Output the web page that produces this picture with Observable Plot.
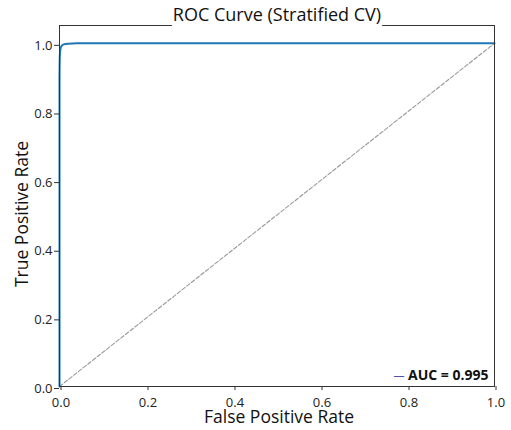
<!DOCTYPE html>
<html>
<head>
<meta charset="utf-8">
<script src="https://cdn.jsdelivr.net/npm/d3@7"></script>
<script src="https://cdn.jsdelivr.net/npm/@observablehq/plot@0.6"></script>
<style>
  html, body { margin: 0; padding: 0; background: #fff; }
  #chart svg { font-family: "Open Sans", sans-serif; }
</style>
</head>
<body>
<div id="chart"></div>
<script>
const fpr = [0, 0, 0.001, 0.003, 0.006, 0.01, 0.02, 0.04, 0.2, 1];
const tpr = [0, 0.9, 0.97, 0.988, 0.994, 0.997, 0.999, 1, 1, 1];
const diagX = [0, 1];
const diagY = [0, 1];
const tickValues = [0, 0.2, 0.4, 0.6, 0.8, 1.0];
const titleText = "ROC Curve (Stratified CV)";
const xLabel = "False Positive Rate";
const yLabel = "True Positive Rate";
const legendText = "AUC = 0.995";

const roc = fpr.map((x, i) => ({x, y: tpr[i]}));
const diag = diagX.map((x, i) => ({x, y: diagY[i]}));
const fmt = d3.format(".1f");

const plot = Plot.plot({
  width: 511,
  height: 430,
  marginLeft: 59,
  marginRight: 17,
  marginTop: 25,
  marginBottom: 44,
  style: {fontFamily: "Open Sans, sans-serif", background: "#fff"},
  x: {domain: [0, 1]},
  y: {domain: [0, 1.052]},
  marks: [
    Plot.line(diag, {x: "x", y: "y", stroke: "#999", strokeWidth: 1.1, strokeDasharray: "4,2"}),
    Plot.line(roc, {x: "x", y: "y", stroke: "#1f77b4", strokeWidth: 2, curve: "monotone-x"}),
    Plot.frame({stroke: "#333", strokeWidth: 1}),
    Plot.axisX({ticks: tickValues, tickFormat: fmt, tickSize: 4, tickPadding: 7, fontSize: 13, label: null, stroke: "#333", fill: "#222", dx: 1.5}),
    Plot.axisY({ticks: tickValues, tickFormat: fmt, tickSize: 5, tickPadding: 2, fontSize: 13, label: null, stroke: "#333", fill: "#222", dy: 2}),
    Plot.text([titleText], {frameAnchor: "top", lineAnchor: "bottom", dy: -5, fontSize: 18, fill: "#111", className: "roc-title"}),
    Plot.text([xLabel], {frameAnchor: "bottom", lineAnchor: "bottom", dx: 2, dy: 36, fontSize: 17.5, fill: "#111"}),
    Plot.text([yLabel], {frameAnchor: "left", textAnchor: "middle", lineAnchor: "middle", rotate: -90, dx: -37, dy: 8, fontSize: 17.5, fill: "#111"}),
    Plot.text([legendText], {frameAnchor: "bottom-right", textAnchor: "end", lineAnchor: "bottom", dx: -6, dy: -7, fontSize: 14, fontWeight: "bold", fill: "#111"}),
    Plot.text(["\u2014"], {frameAnchor: "bottom-right", textAnchor: "end", lineAnchor: "bottom", dx: -90, dy: -8, fontSize: 11, fill: "#5050b0"})
  ]
});
document.getElementById("chart").appendChild(plot);

// white box behind the title, covering the top spine like the reference
const t = plot.querySelector(".roc-title text");
if (t) {
  const b = t.getBBox();
  const g = t.parentNode;
  const rect = document.createElementNS("http://www.w3.org/2000/svg", "rect");
  rect.setAttribute("x", b.x - 1);
  rect.setAttribute("y", b.y);
  rect.setAttribute("width", b.width + 2);
  rect.setAttribute("height", b.height + 4);
  rect.setAttribute("fill", "#fff");
  rect.setAttribute("transform", t.getAttribute("transform") || "");
  g.insertBefore(rect, t);
}
</script>
</body>
</html>
